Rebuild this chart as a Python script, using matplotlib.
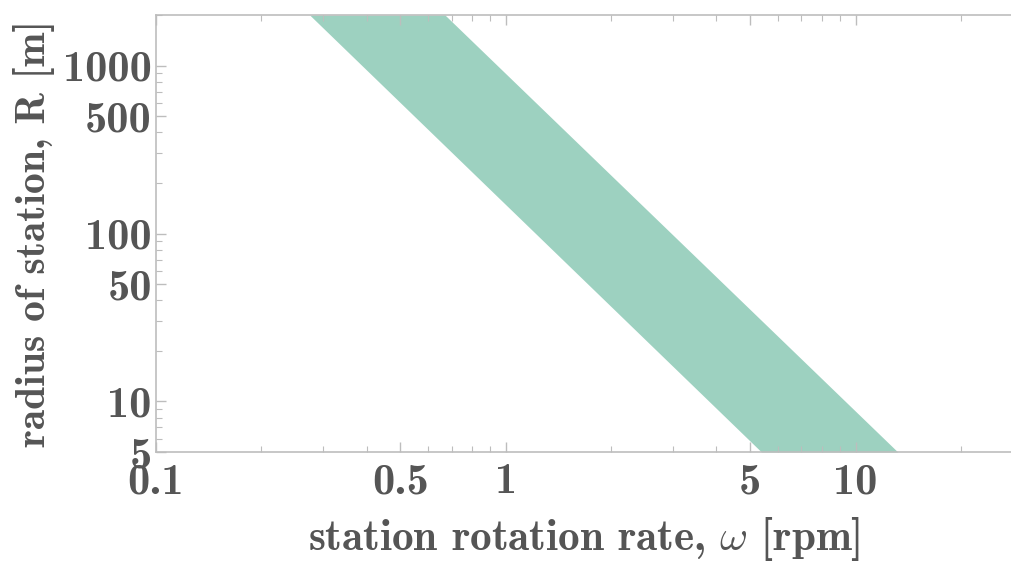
import matplotlib.pyplot as plt
from matplotlib.ticker import FixedLocator, FixedFormatter, NullFormatter
import numpy as np

plt.rcParams['mathtext.fontset'] = 'cm'

# Band edges (straight lines on log-log axes)
radius = [2000, 5]            # R [m]
omega_slow = [0.275, 5.38]    # left edge of band [rpm]
omega_fast = [0.67, 13.2]     # right edge of band [rpm]

x_major = [0.1, 0.5, 1, 5, 10]
x_labels = ['0.1', '0.5', '1', '5', '10']
y_major = [5, 10, 50, 100, 500, 1000]
y_labels = ['5', '10', '50', '100', '500', '1000']

text_col = '#555555'
axis_col = '#bdbdbd'
band_col = '#9dd1c0'

fig = plt.figure(figsize=(10.12, 5.61), dpi=100)
ax = fig.add_axes([156 / 1012, (561 - 452) / 561, 1 - 156 / 1012, (452 - 15) / 561])

ax.fill_betweenx(radius, omega_slow, omega_fast, color=band_col, linewidth=0)

ax.set_xscale('log')
ax.set_yscale('log')
ax.set_xlim(0.1, 28)
ax.set_ylim(5, 2000)

for s in ['left', 'bottom', 'top']:
    ax.spines[s].set_color(axis_col)
    ax.spines[s].set_linewidth(1.2)
ax.spines['right'].set_visible(False)

xminor = [m * d for d in [0.1, 1, 10] for m in range(2, 10) if m * d not in x_major and m * d < 28]
yminor = [m * d for d in [1, 10, 100, 1000] for m in range(2, 10)
          if m * d not in y_major and 5 <= m * d <= 2000]

ax.xaxis.set_major_locator(FixedLocator(x_major))
ax.xaxis.set_major_formatter(FixedFormatter(x_labels))
ax.xaxis.set_minor_locator(FixedLocator(xminor))
ax.xaxis.set_minor_formatter(NullFormatter())
ax.yaxis.set_major_locator(FixedLocator(y_major))
ax.yaxis.set_major_formatter(FixedFormatter(y_labels))
ax.yaxis.set_minor_locator(FixedLocator(yminor))
ax.yaxis.set_minor_formatter(NullFormatter())

ax.tick_params(which='both', direction='in', color=axis_col, top=True, right=False,
               labelcolor=text_col, labelsize=32)
ax.tick_params(which='major', length=7, width=1)
ax.tick_params(which='minor', length=4, width=0.8)
ax.tick_params(axis='x', pad=8)
ax.tick_params(axis='y', pad=3)
for lab in ax.get_xticklabels() + ax.get_yticklabels():
    lab.set_fontfamily('cmb10')

ax.set_xlabel(r'station rotation rate, $\omega$ [rpm]', fontsize=31, color=text_col,
              fontfamily='cmb10', labelpad=9)
ax.set_ylabel('radius of station, R [m]', fontsize=30, color=text_col,
              fontfamily='cmb10', labelpad=6)

fig.savefig('out.png', dpi=100)
